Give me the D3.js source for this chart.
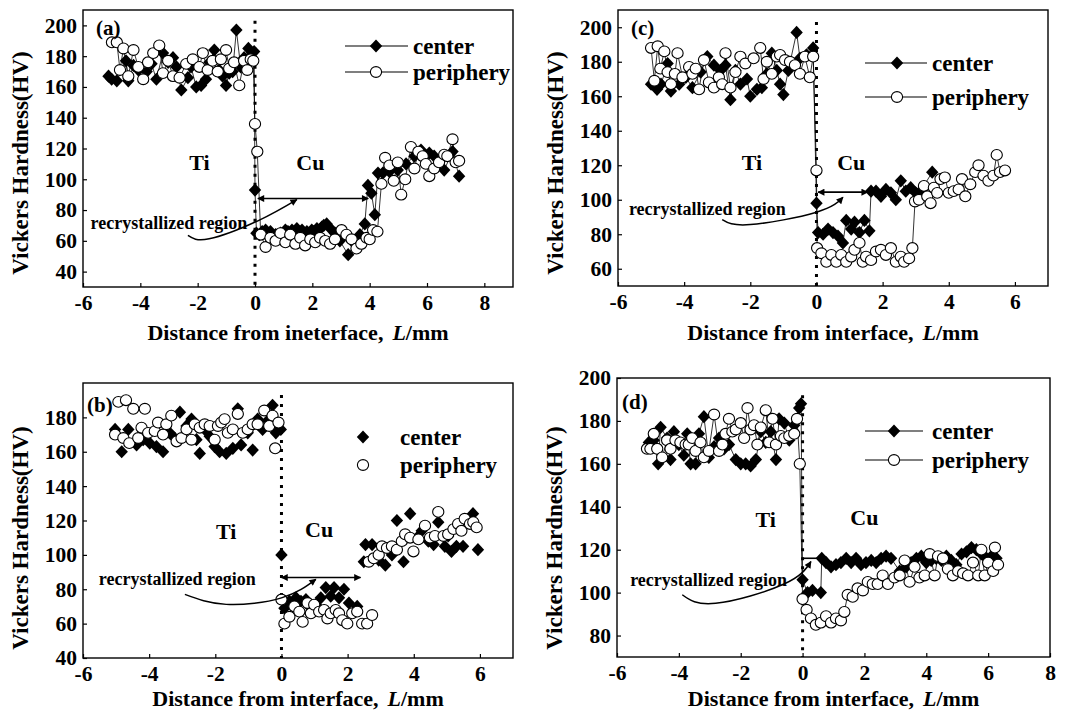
<!DOCTYPE html>
<html lang="en">
<head>
<meta charset="UTF-8">
<title>Vickers hardness across the Ti/Cu interface</title>
<script src="https://cdnjs.cloudflare.com/ajax/libs/d3/7.9.0/d3.min.js"></script>
<style>
  body { margin: 0; background: #fff; }
  svg { display: block; }
  text { font-family: "Liberation Serif", "Times New Roman", serif; font-weight: bold; fill: #000; }
</style>
</head>
<body>
<svg id="chart" width="1070" height="712"></svg>
<script>
// ---- data: [distance L (mm), hardness HV] ----
const aCenter = [[-5.11,167],[-5.0,165],[-4.82,164],[-4.5,177],[-4.42,164],[-4.24,174],[-4.07,171],[-3.78,170],[-3.61,175],[-3.44,165],[-3.21,182],[-3.03,176],[-2.86,179],[-2.74,173],[-2.57,158],[-2.34,166],[-2.23,173],[-2.05,160],[-1.88,161],[-1.71,165],[-1.59,176],[-1.42,184],[-1.25,171],[-1.13,167],[-1.01,161],[-0.9,169],[-0.78,170],[-0.65,197],[-0.5,173],[-0.38,179],[-0.23,185],[-0.15,180],[-0.03,183],
  [0.0,93],[0.05,65],[0.15,64],[0.25,66],[0.37,67],[0.54,66],[0.72,64],[0.89,65],[1.06,67],[1.15,66],[1.29,67],[1.46,68],[1.64,67],[1.81,66],[1.98,67],[2.05,66],[2.16,68],[2.33,69],[2.4,70],[2.5,71],[2.68,67],[2.79,65],[2.96,60],[3.25,51],[3.48,58],[3.66,64],[3.83,71],[3.94,96],[4.06,91],[4.18,77],[4.29,104],[4.46,104],[4.69,105],[4.98,106],[5.27,110],[5.56,115],[5.79,119],[6.08,117],[6.25,115],[6.6,106],[6.89,118],[7.12,102]];
const aPeriphery = [[-4.99,189],[-4.82,189],[-4.71,171],[-4.59,185],[-4.42,167],[-4.24,184],[-4.07,173],[-3.9,165],[-3.73,176],[-3.55,182],[-3.34,187],[-3.21,169],[-3.03,177],[-2.86,167],[-2.63,166],[-2.4,175],[-2.17,178],[-1.94,173],[-1.82,182],[-1.65,171],[-1.48,177],[-1.3,170],[-1.19,178],[-1.01,184],[-0.9,172],[-0.73,176],[-0.55,161],[-0.38,177],[-0.27,171],[-0.15,178],[-0.06,177],[0.0,136],[0.08,118],
  [0.2,64],[0.37,56],[0.54,62],[0.72,60],[0.89,65],[1.06,59],[1.23,64],[1.41,58],[1.58,62],[1.75,57],[1.93,61],[2.1,59],[2.27,62],[2.45,60],[2.62,58],[2.79,61],[3.02,67],[3.19,64],[3.37,61],[3.54,55],[3.71,58],[3.89,62],[4.0,61],[4.12,67],[4.27,66],[4.41,97],[4.54,114],[4.69,109],[4.84,99],[4.98,111],[5.1,90],[5.24,100],[5.44,121],[5.56,107],[5.7,118],[5.85,115],[5.96,110],[6.08,102],[6.25,107],[6.42,111],[6.6,116],[6.71,115],[6.89,126],[7.0,111],[7.12,112]];

const bCenter = [[-5.03,173],[-4.83,160],[-4.63,173],[-4.38,164],[-4.18,167],[-3.98,165],[-3.78,163],[-3.58,160],[-3.38,171],[-3.23,168],[-3.07,183],[-2.87,175],[-2.72,179],[-2.57,167],[-2.47,159],[-2.32,173],[-2.17,169],[-2.02,163],[-1.87,160],[-1.67,159],[-1.47,162],[-1.32,185],[-1.22,164],[-1.02,171],[-0.87,161],[-0.72,179],[-0.57,173],[-0.42,178],[-0.27,187],[-0.17,171],[-0.02,173],
  [0.0,100],[0.09,69],[0.24,73],[0.44,75],[0.59,73],[0.74,74],[0.89,69],[1.04,71],[1.19,75],[1.34,81],[1.49,76],[1.59,81],[1.74,75],[1.89,80],[2.04,72],[2.29,70],[2.49,96],[2.54,106],[2.74,106],[2.94,97],[3.14,94],[3.34,100],[3.49,120],[3.69,96],[3.89,124],[4.1,110],[4.24,114],[4.44,108],[4.6,106],[4.74,119],[4.94,105],[5.04,111],[5.14,102],[5.29,105],[5.49,105],[5.79,124],[5.94,103]];
const bPeriphery = [[-5.03,170],[-4.93,189],[-4.78,168],[-4.7,190],[-4.6,165],[-4.48,185],[-4.33,168],[-4.23,174],[-4.13,185],[-4.03,171],[-3.83,172],[-3.73,177],[-3.58,170],[-3.48,176],[-3.33,181],[-3.17,166],[-3.02,168],[-2.87,173],[-2.72,167],[-2.62,176],[-2.47,174],[-2.32,176],[-2.17,175],[-2.02,167],[-1.92,175],[-1.82,177],[-1.72,179],[-1.62,171],[-1.47,173],[-1.32,182],[-1.17,171],[-1.02,173],[-0.87,176],[-0.72,176],[-0.52,184],[-0.37,175],[-0.27,181],[-0.19,162],[-0.09,177],
  [0.0,74],[0.09,60],[0.24,64],[0.39,70],[0.54,67],[0.64,61],[0.79,72],[0.89,66],[0.99,71],[1.14,67],[1.29,68],[1.39,63],[1.49,66],[1.64,68],[1.74,66],[1.84,62],[1.99,60],[2.14,66],[2.29,67],[2.44,60],[2.59,60],[2.74,65],[2.64,96],[2.79,98],[2.94,100],[3.04,105],[3.19,104],[3.34,105],[3.49,103],[3.64,108],[3.74,112],[3.89,110],[3.99,102],[4.14,109],[4.34,117],[4.49,110],[4.64,111],[4.74,125],[4.9,111],[5.04,112],[5.2,115],[5.34,118],[5.44,114],[5.54,121],[5.7,118],[5.8,119],[5.9,116]];

const cCenter = [[-5.0,167],[-4.82,164],[-4.7,167],[-4.5,179],[-4.4,163],[-4.15,167],[-3.95,171],[-3.75,165],[-3.5,174],[-3.3,183],[-3.1,178],[-2.9,175],[-2.75,178],[-2.6,158],[-2.45,175],[-2.3,167],[-2.1,170],[-2.0,160],[-1.8,164],[-1.65,165],[-1.5,173],[-1.35,185],[-1.2,175],[-1.1,167],[-1.0,161],[-0.85,175],[-0.6,197],[-0.5,182],[-0.3,184],[-0.1,188],
  [0.0,98],[0.05,81],[0.2,80],[0.35,83],[0.5,81],[0.65,79],[0.8,75],[0.9,88],[1.05,83],[1.15,87],[1.3,81],[1.45,88],[1.6,82],[1.65,105],[1.8,105],[1.95,102],[2.1,106],[2.25,104],[2.4,100],[2.55,111],[2.7,105],[2.85,107],[3.0,104],[3.15,105],[3.5,116]];
const cPeriphery = [[-5.0,188],[-4.9,169],[-4.8,189],[-4.72,176],[-4.6,186],[-4.5,174],[-4.4,167],[-4.28,173],[-4.2,185],[-4.05,171],[-3.85,177],[-3.75,173],[-3.65,176],[-3.55,164],[-3.4,181],[-3.25,168],[-3.1,165],[-2.95,171],[-2.85,167],[-2.75,185],[-2.6,165],[-2.45,174],[-2.3,183],[-2.15,179],[-1.9,182],[-1.7,188],[-1.6,170],[-1.5,180],[-1.35,173],[-1.2,183],[-1.1,184],[-0.95,181],[-0.8,180],[-0.65,178],[-0.5,173],[-0.35,183],[-0.2,171],[-0.1,183],[0.0,117],
  [0.02,72],[0.15,69],[0.3,64],[0.45,68],[0.6,64],[0.75,68],[0.9,64],[1.05,67],[1.15,71],[1.3,75],[1.4,64],[1.5,67],[1.65,65],[1.8,70],[1.95,71],[2.1,68],[2.25,72],[2.4,64],[2.55,67],[2.65,64],[2.8,66],[2.9,72],[2.98,99],[3.1,100],[3.25,108],[3.35,102],[3.45,98],[3.55,107],[3.65,104],[3.75,112],[3.88,113],[4.0,104],[4.15,105],[4.3,106],[4.4,112],[4.5,102],[4.65,109],[4.8,116],[4.9,120],[5.05,114],[5.2,111],[5.35,114],[5.45,126],[5.55,116],[5.7,117]];

const dCenter = [[-4.97,170],[-4.81,171],[-4.67,160],[-4.59,177],[-4.38,172],[-4.27,162],[-4.16,175],[-4.0,169],[-3.84,164],[-3.73,174],[-3.62,160],[-3.46,160],[-3.35,174],[-3.19,182],[-3.03,163],[-2.86,168],[-2.7,172],[-2.54,167],[-2.38,169],[-2.16,162],[-2.0,160],[-1.84,160],[-1.68,159],[-1.51,162],[-1.35,175],[-1.19,170],[-1.03,175],[-0.86,162],[-0.76,181],[-0.59,179],[-0.43,171],[-0.27,178],[-0.11,186],[-0.05,188],
  [0.0,106],[0.16,100],[0.32,101],[0.59,100],[0.62,116],[0.76,114],[0.92,112],[1.08,113],[1.24,114],[1.41,116],[1.57,114],[1.73,116],[1.89,113],[2.05,114],[2.22,115],[2.38,114],[2.54,116],[2.7,117],[2.86,116],[3.14,110],[3.35,112],[3.51,114],[3.68,116],[3.84,117],[4.0,114],[4.16,115],[4.32,116],[4.49,115],[4.65,117],[4.81,115],[4.97,113],[5.14,118],[5.3,119],[5.46,121],[5.62,120],[5.78,118],[5.95,116],[6.11,117],[6.27,116]];
const dPeriphery = [[-5.03,167],[-4.92,167],[-4.81,174],[-4.7,167],[-4.54,163],[-4.38,171],[-4.27,167],[-4.11,171],[-3.95,170],[-3.78,169],[-3.68,169],[-3.57,172],[-3.46,166],[-3.3,170],[-3.19,163],[-3.03,166],[-2.86,183],[-2.7,166],[-2.59,169],[-2.49,174],[-2.38,181],[-2.27,175],[-2.16,176],[-2.0,179],[-1.89,172],[-1.78,186],[-1.68,176],[-1.57,178],[-1.46,169],[-1.35,177],[-1.19,185],[-1.08,170],[-0.97,181],[-0.86,169],[-0.7,173],[-0.59,172],[-0.43,173],[-0.27,174],[-0.18,181],[-0.09,160],
  [0.0,97],[0.13,92],[0.27,88],[0.43,85],[0.59,86],[0.76,89],[0.92,86],[1.08,88],[1.24,87],[1.35,91],[1.46,99],[1.62,98],[1.78,102],[1.95,101],[2.11,105],[2.27,104],[2.43,104],[2.59,108],[2.76,104],[2.97,107],[3.14,108],[3.3,115],[3.46,105],[3.62,112],[3.78,107],[3.95,108],[4.11,118],[4.27,108],[4.38,117],[4.54,116],[4.7,111],[4.86,108],[5.03,110],[5.19,109],[5.35,108],[5.51,114],[5.68,108],[5.78,120],[5.89,108],[6.0,114],[6.16,110],[6.22,121],[6.32,113]];

// ---- tick labels ----
const xTicksTo8 = [-6, -4, -2, 0, 2, 4, 6, 8];
const xTicksTo6 = [-6, -4, -2, 0, 2, 4, 6];
const aYTicks = [40, 60, 80, 100, 120, 140, 160, 180, 200];
const bYTicks = [40, 60, 80, 100, 120, 140, 160, 180];
const cYTicks = [60, 80, 100, 120, 140, 160, 180, 200];
const dYTicks = [80, 100, 120, 140, 160, 180, 200];
const seriesNames = ['center', 'periphery'];

const svg = d3.select('#chart');

svg.append('defs').append('marker')
  .attr('id', 'head')
  .attr('viewBox', '0 0 10 10')
  .attr('refX', 9).attr('refY', 5)
  .attr('markerWidth', 9).attr('markerHeight', 7)
  .attr('markerUnits', 'userSpaceOnUse')
  .attr('orient', 'auto-start-reverse')
  .append('path').attr('d', 'M0,0L10,5L0,10Z').attr('fill', '#000');

const panels = [
  { label: '(a)', center: aCenter, periphery: aPeriphery, box: [83, 10, 513, 287],
    xDom: [-6, 9], yDom: [30, 210], xTicks: xTicksTo8, yTicks: aYTicks, joined: true,
    xTitle: 'Distance from ineterface,', xTitleY: 340, yTitleY: 163,
    labelPos: [96, 28], dotTop: 203, ti: [-1.94, 111], cu: [1.93, 111],
    rec: [-3.0, 72], curve: [[-2.34, 63.5], [-1.6, 61.3], [0.1, 73], [1.46, 86.8]],
    span: [0.1, 3.95, 87.5], spanHeads: true,
    legend: { x0: 345, x1: 408, xm: 376, xt: 413, ys: [46, 72] } },
  { label: '(c)', center: cCenter, periphery: cPeriphery, box: [618, 10, 1048, 286],
    xDom: [-6, 7], yDom: [50, 210], xTicks: xTicksTo6, yTicks: cYTicks, joined: true,
    xTitle: 'Distance from interface,', xTitleY: 340, yTitleY: 163,
    labelPos: [631, 28], dotTop: 203, ti: [-1.95, 122], cu: [1.05, 122],
    rec: [-3.3, 95], curve: [[-2.85, 88.5], [-2.0, 85.6], [0.0, 92.8], [0.8, 101.5]],
    span: [0.05, 1.55, 104.4], spanHeads: true,
    legend: { x0: 865, x1: 927, xm: 897, xt: 932, ys: [63, 97] } },
  { label: '(b)', center: bCenter, periphery: bPeriphery, box: [83, 383, 513, 658],
    xDom: [-6, 7], yDom: [40, 200], xTicks: xTicksTo6, yTicks: bYTicks, joined: false,
    xTitle: 'Distance from interface,', xTitleY: 706, yTitleY: 538,
    labelPos: [87, 405], dotTop: 193, ti: [-1.67, 114], cu: [1.14, 115],
    rec: [-3.15, 86], curve: [[-2.92, 77], [-1.67, 71.2], [0.0, 75], [1.04, 85.8]],
    span: [0.0, 2.39, 86.8], spanHeads: true,
    legend: { x0: null, x1: null, xm: 363, xt: 400, ys: [437, 465] } },
  { label: '(d)', center: dCenter, periphery: dPeriphery, box: [617, 378, 1050, 657],
    xDom: [-6, 8], yDom: [70, 200], xTicks: xTicksTo8, yTicks: dYTicks, joined: true,
    xTitle: 'Distance from interface,', xTitleY: 706, yTitleY: 538,
    labelPos: [622, 402], dotTop: 192, ti: [-1.19, 134], cu: [2.0, 135],
    rec: [-3.04, 106], curve: [[-3.89, 99], [-2.81, 95], [-0.6, 104], [0.27, 114.5]],
    span: [0.0, 0.55, 116], spanHeads: false,
    legend: { x0: 865, x1: 923, xm: 894, xt: 932, ys: [431, 460] } }
];

function marker(sel, name) {
  if (name === 'center') {
    sel.append('path').attr('d', 'M0,-6.6L6.2,0L0,6.6L-6.2,0Z').attr('fill', '#000');
  } else {
    sel.append('ellipse').attr('rx', 5.6).attr('ry', 5.4)
      .attr('fill', '#fff').attr('stroke', '#000').attr('stroke-width', 1.1);
  }
}

function drawPanel(p) {
  const [x0, y0, x1, y1] = p.box;
  const x = d3.scaleLinear().domain(p.xDom).range([x0, x1]);
  const y = d3.scaleLinear().domain(p.yDom).range([y1, y0]);
  const g = svg.append('g');

  const xAxis = g.append('g')
    .attr('transform', `translate(0,${y1})`)
    .call(d3.axisBottom(x).tickValues(p.xTicks).tickSizeInner(-4).tickSizeOuter(0)
      .tickPadding(8).tickFormat(d => String(d)));
  const yAxis = g.append('g')
    .attr('transform', `translate(${x0},0)`)
    .call(d3.axisLeft(y).tickValues(p.yTicks).tickSizeInner(-4).tickSizeOuter(0)
      .tickPadding(6).tickFormat(d => String(d)));
  [xAxis, yAxis].forEach(ax => {
    ax.attr('font-size', 21.5).attr('font-family', null);
    ax.select('.domain').remove();
    ax.selectAll('.tick line').attr('stroke-width', 1.2);
  });

  g.append('rect')
    .attr('x', x0).attr('y', y0).attr('width', x1 - x0).attr('height', y1 - y0)
    .attr('fill', 'none').attr('stroke', '#000').attr('stroke-width', 1.4);

  // interface
  g.append('line')
    .attr('x1', x(0)).attr('x2', x(0)).attr('y1', y(p.dotTop)).attr('y2', y1)
    .attr('stroke', '#000').attr('stroke-width', 3).attr('stroke-dasharray', '3 6');

  const line = d3.line().x(d => x(d[0])).y(d => y(d[1]));
  if (p.joined) {
    seriesNames.forEach(name => {
      g.append('path').datum(p[name])
        .attr('d', line).attr('fill', 'none').attr('stroke', '#000').attr('stroke-width', 0.8);
    });
  }
  seriesNames.forEach(name => {
    g.append('g').selectAll('g')
      .data(p[name])
      .join('g')
      .attr('transform', d => `translate(${x(d[0])},${y(d[1])})`)
      .each(function () { marker(d3.select(this), name); });
  });

  // annotations
  g.append('text').attr('x', p.labelPos[0]).attr('y', p.labelPos[1]).attr('dy', '0.35em')
    .attr('font-size', 21).text(p.label);
  g.append('text').attr('x', x(p.ti[0])).attr('y', y(p.ti[1])).attr('dy', '0.35em')
    .attr('text-anchor', 'middle').attr('font-size', 22).text('Ti');
  g.append('text').attr('x', x(p.cu[0])).attr('y', y(p.cu[1])).attr('dy', '0.35em')
    .attr('text-anchor', 'middle').attr('font-size', 22).text('Cu');
  g.append('text').attr('x', x(p.rec[0])).attr('y', y(p.rec[1])).attr('dy', '0.35em')
    .attr('text-anchor', 'middle').attr('font-size', 18).text('recrystallized region');

  g.append('path')
    .attr('d', d3.line().curve(d3.curveNatural).x(d => x(d[0])).y(d => y(d[1]))(p.curve))
    .attr('fill', 'none').attr('stroke', '#000').attr('stroke-width', 1.5)
    .attr('marker-end', 'url(#head)');
  const span = g.append('line')
    .attr('x1', x(p.span[0])).attr('x2', x(p.span[1]))
    .attr('y1', y(p.span[2])).attr('y2', y(p.span[2]))
    .attr('stroke', '#000').attr('stroke-width', 1.6);
  if (p.spanHeads) span.attr('marker-start', 'url(#head)').attr('marker-end', 'url(#head)');

  // legend
  const lg = p.legend;
  seriesNames.forEach((name, i) => {
    const ly = lg.ys[i];
    if (lg.x0 !== null) {
      g.append('line').attr('x1', lg.x0).attr('x2', lg.x1).attr('y1', ly).attr('y2', ly)
        .attr('stroke', '#000').attr('stroke-width', 1.2);
    }
    marker(g.append('g').attr('transform', `translate(${lg.xm},${ly})`), name);
    g.append('text').attr('x', lg.xt).attr('y', ly).attr('dy', '0.35em')
      .attr('font-size', 23).text(name);
  });

  // axis titles
  const xt = g.append('text')
    .attr('x', (x0 + x1) / 2).attr('y', p.xTitleY)
    .attr('text-anchor', 'middle').attr('font-size', 22);
  xt.append('tspan').text(p.xTitle);
  xt.append('tspan').attr('dx', 9).attr('font-style', 'italic').text('L');
  xt.append('tspan').text('/mm');

  g.append('text')
    .attr('transform', `translate(${x0 - 55},${p.yTitleY}) rotate(-90)`)
    .attr('text-anchor', 'middle').attr('font-size', 23)
    .text('Vickers Hardness(HV)');
}

panels.forEach(drawPanel);
</script>
</body>
</html>
